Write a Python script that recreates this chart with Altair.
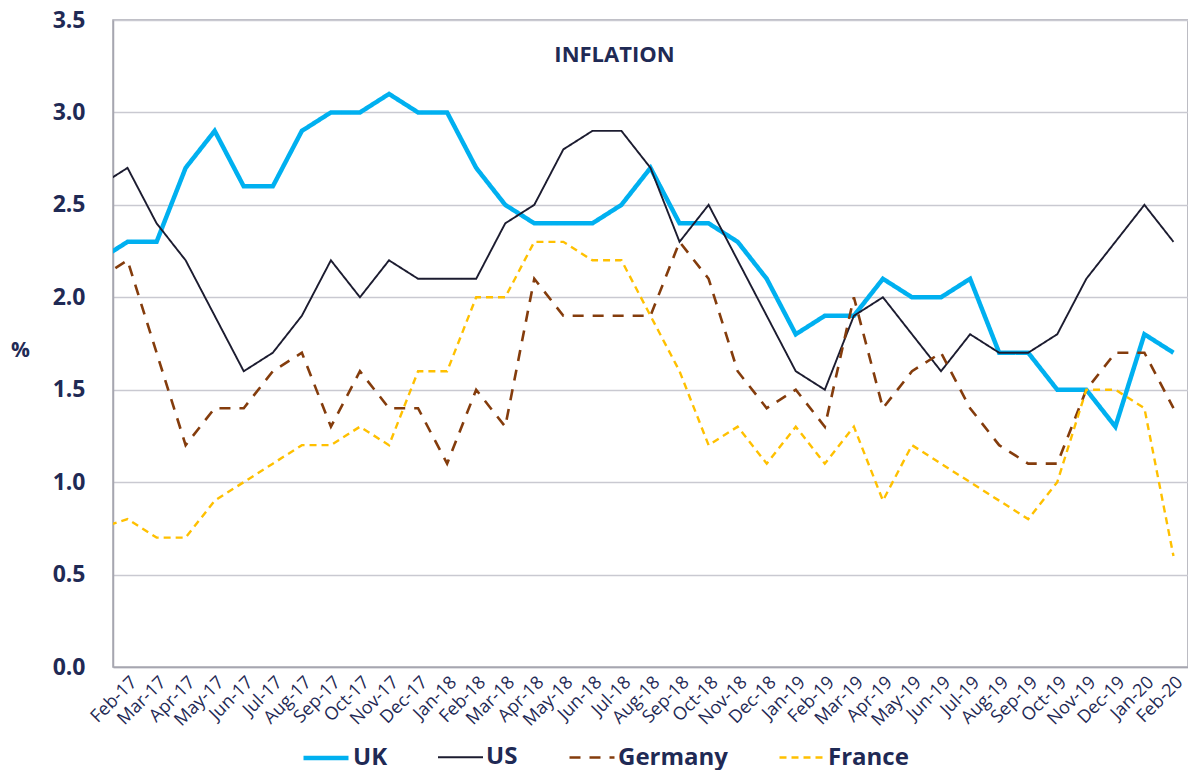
import json
import altair as alt
import pandas as pd

months = ["Feb-17", "Mar-17", "Apr-17", "May-17", "Jun-17", "Jul-17", "Aug-17", "Sep-17",
          "Oct-17", "Nov-17", "Dec-17", "Jan-18", "Feb-18", "Mar-18", "Apr-18", "May-18",
          "Jun-18", "Jul-18", "Aug-18", "Sep-18", "Oct-18", "Nov-18", "Dec-18", "Jan-19",
          "Feb-19", "Mar-19", "Apr-19", "May-19", "Jun-19", "Jul-19", "Aug-19", "Sep-19",
          "Oct-19", "Nov-19", "Dec-19", "Jan-20", "Feb-20"]

uk = [2.3, 2.3, 2.7, 2.9, 2.6, 2.6, 2.9, 3.0, 3.0, 3.1, 3.0, 3.0,
      2.7, 2.5, 2.4, 2.4, 2.4, 2.5, 2.7, 2.4, 2.4, 2.3, 2.1, 1.8,
      1.9, 1.9, 2.1, 2.0, 2.0, 2.1, 1.7, 1.7, 1.5, 1.5, 1.3, 1.8,
      1.7]
us = [2.7, 2.4, 2.2, 1.9, 1.6, 1.7, 1.9, 2.2, 2.0, 2.2, 2.1, 2.1,
      2.1, 2.4, 2.5, 2.8, 2.9, 2.9, 2.7, 2.3, 2.5, 2.2, 1.9, 1.6,
      1.5, 1.9, 2.0, 1.8, 1.6, 1.8, 1.7, 1.7, 1.8, 2.1, 2.3, 2.5,
      2.3]
germany = [2.2, 1.7, 1.2, 1.4, 1.4, 1.6, 1.7, 1.3, 1.6, 1.4, 1.4, 1.1,
           1.5, 1.3, 2.1, 1.9, 1.9, 1.9, 1.9, 2.3, 2.1, 1.6, 1.4, 1.5,
           1.3, 2.0, 1.4, 1.6, 1.7, 1.4, 1.2, 1.1, 1.1, 1.5, 1.7, 1.7,
           1.4]
france = [0.8, 0.7, 0.7, 0.9, 1.0, 1.1, 1.2, 1.2, 1.3, 1.2, 1.6, 1.6,
          2.0, 2.0, 2.3, 2.3, 2.2, 2.2, 1.9, 1.6, 1.2, 1.3, 1.1, 1.3,
          1.1, 1.3, 0.9, 1.2, 1.1, 1.0, 0.9, 0.8, 1.0, 1.5, 1.5, 1.4,
          0.6]

# value of the month before Feb-17 (Jan-17), only partly visible at the left edge
lead_values = {"UK": 2.2, "US": 2.6, "Germany": 2.1, "France": 0.75}

names = ["UK", "US", "Germany", "France"]
colors = ["#00B0F0", "#1C1C30", "#843C0C", "#FFC000"]
dashes = [[1, 0], [1, 0], [11, 9], [7, 5]]
widths = [4.5, 1.9, 2.6, 2.4]

y_ticks = [0.0, 0.5, 1.0, 1.5, 2.0, 2.5, 3.0, 3.5]

rows = []
for name, vals in zip(names, [uk, us, germany, france]):
    rows.append({"series": name, "idx": -1, "value": lead_values[name]})
    for i, v in enumerate(vals):
        rows.append({"series": name, "idx": i, "value": v})
df = pd.DataFrame(rows)

navy = "#1F2A55"
font = "Open Sans"
label_expr = json.dumps(months) + "[datum.value]"

legend = alt.Legend(
    title=None, orient="none", direction="horizontal",
    legendX=188, legendY=713,
    symbolType="stroke", symbolSize=2025, labelFont=font, labelFontSize=24,
    labelFontWeight="bold", labelColor=navy, labelOffset=2, columnPadding=46,
)

chart = alt.Chart(df).mark_line(clip=True).encode(
    x=alt.X("idx:Q",
            scale=alt.Scale(domain=[-0.5, 36.5], nice=False, zero=False),
            axis=alt.Axis(values=list(range(len(months))), labelExpr=label_expr,
                          labelAngle=315, labelAlign="right", labelBaseline="top",
                          grid=False, ticks=False, tickSize=0, labelPadding=6,
                          labelOverlap=False, labelFont=font, labelFontSize=18,
                          labelColor=navy, domainColor="#A6A6B0", domainWidth=1.5,
                          title=None)),
    y=alt.Y("value:Q",
            scale=alt.Scale(domain=[0, 3.5], nice=False),
            axis=alt.Axis(values=y_ticks, format=".1f", ticks=False, tickSize=0,
                          labelPadding=28, labelFont=font, labelFontSize=23,
                          labelFontWeight="bold", labelColor=navy,
                          gridColor="#C9C9D1", gridWidth=1.5,
                          domainColor="#A6A6B0", domainWidth=1.5,
                          title="%", titleAngle=0, titleX=-93, titleY=330,
                          titleAlign="center", titleBaseline="middle",
                          titleFont=font, titleFontSize=21, titleFontWeight="bold",
                          titleColor=navy)),
    color=alt.Color("series:N", scale=alt.Scale(domain=names, range=colors), legend=legend),
    strokeDash=alt.StrokeDash("series:N", scale=alt.Scale(domain=names, range=dashes), legend=legend),
    strokeWidth=alt.StrokeWidth("series:N",
                                scale=alt.Scale(type="ordinal", domain=names, range=widths),
                                legend=legend),
).properties(
    width=1075,
    height=647,
    title=alt.TitleParams("INFLATION", font=font, fontSize=22, fontWeight="bold",
                          color=navy, anchor="middle", frame="group", dx=-36,
                          offset=-33, dy=35, baseline="middle"),
    padding={"left": 105, "top": 12, "right": 0, "bottom": 103},
    autosize="none",
).configure_view(stroke="#A6A6B0", strokeWidth=1.5)

chart.save("out.html", embed_options={"renderer": "svg", "actions": False})
